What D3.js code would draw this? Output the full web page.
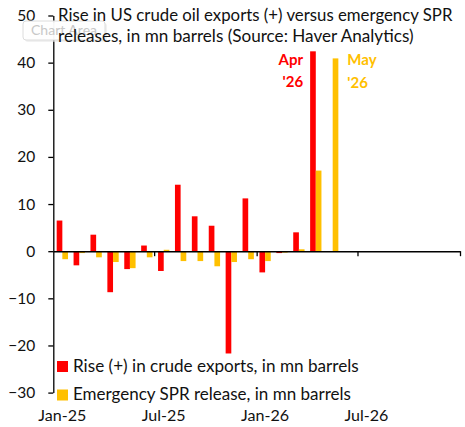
<!DOCTYPE html>
<html>
<head>
<meta charset="utf-8">
<script src="https://cdn.jsdelivr.net/npm/d3@7.9.0/dist/d3.min.js"></script>
<style>
  html, body { margin: 0; padding: 0; background: #fff; }
  svg { display: block; font-family: Lato, "Open Sans", sans-serif; }
</style>
</head>
<body>
<svg id="chart" width="465" height="427"></svg>
<script>
// ---- data (mn barrels) ----
const months = ["Jan-25","Feb-25","Mar-25","Apr-25","May-25","Jun-25","Jul-25","Aug-25","Sep-25","Oct-25","Nov-25","Dec-25",
                "Jan-26","Feb-26","Mar-26","Apr-26","May-26","Jun-26","Jul-26","Aug-26","Sep-26","Oct-26","Nov-26","Dec-26"];
const exportsRise = [6.5, -3.0, 3.5, -8.7, -3.8, 1.2, -4.2, 14.1, 7.4, 5.4, -21.7, 11.2,
                     -4.5, -0.4, 4.0, 42.4, null, null, null, null, null, null, null, null];
const sprRelease = [-1.7, -0.4, -1.3, -2.3, -3.6, -1.3, 0.3, -2.1, -2.1, -3.2, -2.3, -1.7,
                    -2.1, -0.3, 0.4, 17.1, 40.9, null, null, null, null, null, null, null];
const xLabels = ["Jan-25", "Jul-25", "Jan-26", "Jul-26"];
const yTicks = [-30, -20, -10, 0, 10, 20, 30, 40, 50];
const seriesNames = ["Rise (+) in crude exports, in mn barrels", "Emergency SPR release, in mn barrels"];
const titleLines = ["Rise in US crude oil exports (+) versus emergency SPR",
                    "releases, in mn barrels (Source: Haver Analytics)"];

const RED = "#ff0000", GOLD = "#ffc000";

const svg = d3.select("#chart");
const plotLeft = 53.3, plotRight = 460, plotTop = 15.5, plotBottom = 392.6;

let y = d3.scaleLinear().domain([-30, 50]).range([plotBottom, plotTop]);
let xTime = d3.scaleTime()
  .domain([new Date(2025, 0, 1), new Date(2027, 0, 1)])
  .range([plotLeft, plotRight]);
let x = d3.scaleBand().domain(months).range([plotLeft, plotRight]).paddingInner(0.33).paddingOuter(0.2);
let xInner = d3.scaleBand().domain([0, 1]).range([0, x.bandwidth()]);

// fit a text element to a target width (font stand-in for Calibri)
function fit(sel, width) {
  let w = sel.node().getComputedTextLength();
  let fs = parseFloat(sel.attr("font-size"));
  sel.attr("font-size", (fs * width / w).toFixed(2));
}

// ---- bars ----
let series = [exportsRise, sprRelease];
series.forEach((vals, s) => {
  svg.append("g")
    .selectAll("rect")
    .data(vals.map((v, i) => ({ m: months[i], v })).filter(d => d.v !== null))
    .join("rect")
    .attr("x", d => x(d.m) + xInner(s))
    .attr("width", xInner.bandwidth())
    .attr("y", d => y(Math.max(0, d.v)))
    .attr("height", d => Math.abs(y(d.v) - y(0)))
    .attr("fill", s === 0 ? RED : GOLD);
});

// ---- y axis ----
let yAxis = svg.append("g")
  .attr("transform", `translate(${plotLeft},0)`)
  .call(d3.axisLeft(y).tickValues(yTicks).tickSize(5).tickSizeOuter(0).tickPadding(13));
yAxis.select(".domain").attr("stroke", "#000").attr("stroke-width", 1.3);
yAxis.selectAll(".tick line").attr("stroke", "#000").attr("stroke-width", 1.3);
yAxis.selectAll(".tick text")
  .attr("font-size", 15.5).attr("fill", "#111")
  .attr("font-family", "Lato, sans-serif");

// ---- x axis on the zero line ----
let xAxis = svg.append("g")
  .attr("transform", `translate(0,${y(0)})`)
  .call(d3.axisBottom(xTime).ticks(d3.timeMonth.every(6)).tickSize(5).tickSizeOuter(0).tickFormat(""));
xAxis.select(".domain").attr("stroke", "#000").attr("stroke-width", 1.5);
xAxis.selectAll(".tick line").attr("stroke", "#000").attr("stroke-width", 1.3);
xAxis.selectAll(".tick").filter(d => +d === +new Date(2025, 0, 1)).remove();

// month labels centred on their months at the bottom, one shared size
let xText = svg.append("g")
  .selectAll("text")
  .data(xLabels)
  .join("text")
  .attr("x", d => x(d) + x.bandwidth() / 2)
  .attr("y", 421)
  .attr("text-anchor", "middle")
  .attr("font-size", 15)
  .attr("fill", "#111")
  .text(d => d);
let first = d3.select(xText.nodes()[0]);
fit(first, 48);
xText.attr("font-size", first.attr("font-size"));

// ---- "Chart Area" hover tip left over from Excel ----
let tip = svg.append("g");
tip.append("rect")
  .attr("x", 25).attr("y", 23).attr("width", 82).attr("height", 19).attr("rx", 3)
  .attr("fill", "#e8e8e8").attr("fill-opacity", 0.6);
tip.append("rect")
  .attr("x", 23).attr("y", 21).attr("width", 82).attr("height", 19).attr("rx", 3)
  .attr("fill", "#fff").attr("fill-opacity", 0.92)
  .attr("stroke", "#dcdcdc");
tip.append("text")
  .attr("x", 64).attr("y", 35).attr("text-anchor", "middle")
  .attr("font-size", 14).attr("fill", "#c8c8c8")
  .text("Chart Area");

// ---- title ----
let titleWidths = [395, 356];
titleLines.forEach((t, i) => {
  let tx = svg.append("text")
    .attr("x", 58).attr("y", 21 + i * 21)
    .attr("font-size", 15).attr("fill", "#111")
    .text(t);
  fit(tx, titleWidths[i]);
});

// ---- annotations ----
let aprX = x("Apr-26") - 7;
let mayX = x("May-26") + xInner(1) + xInner.bandwidth() + 9;
[["Apr", 65], ["'26", 87]].forEach(([t, yy]) => {
  svg.append("text").attr("x", aprX).attr("y", yy).attr("text-anchor", "end")
    .attr("font-size", 15).attr("font-weight", "bold").attr("fill", RED).text(t);
});
[["May", 65], ["'26", 88]].forEach(([t, yy]) => {
  svg.append("text").attr("x", mayX).attr("y", yy)
    .attr("font-size", 15).attr("font-weight", "bold").attr("fill", GOLD).text(t);
});

// ---- legend ----
let legendWidths = [286, 278];
seriesNames.forEach((name, i) => {
  let g = svg.append("g").attr("transform", `translate(57,${361 + i * 28.5})`);
  g.append("rect").attr("width", 11).attr("height", 11).attr("fill", i === 0 ? RED : GOLD);
  let tx = g.append("text").attr("x", 16).attr("y", 10.5)
    .attr("font-size", 15).attr("fill", "#111").text(name);
  fit(tx, legendWidths[i]);
});
</script>
</body>
</html>
